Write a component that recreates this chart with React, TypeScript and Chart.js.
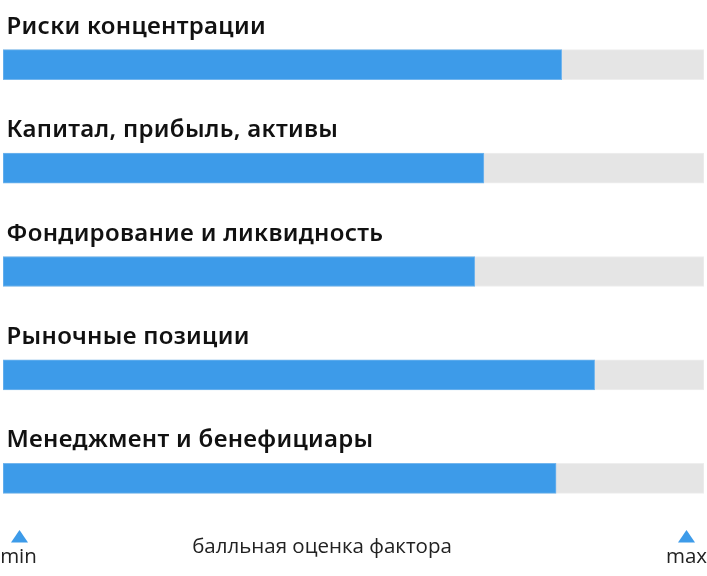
import React, { useEffect, useRef } from "react";
import { Chart, registerables } from "chart.js";

Chart.register(...registerables);

const categories = [
  "Риски концентрации",
  "Капитал, прибыль, активы",
  "Фондирование и ликвидность",
  "Рыночные позиции",
  "Менеджмент и бенефициары",
];
const scores = [79.7, 68.6, 67.3, 84.4, 78.9];
const scaleMin = 0;
const scaleMax = 100;
const trackValues = [100, 100, 100, 100, 100];
const axisCaption = "балльная оценка фактора";
const minLabel = "min";
const maxLabel = "max";

const BLUE = "#3d9be9";
const BLUE_EDGE = "#74b6ee";
const TRACK = "#e5e5e5";
const TRACK_EDGE = "#eeeeee";

const labelsPlugin = {
  id: "factorLabels",
  afterDatasetsDraw(chart: any) {
    const ctx = chart.ctx;
    const area = chart.chartArea;
    const meta = chart.getDatasetMeta(1);
    ctx.save();
    ctx.fillStyle = "#111111";
    ctx.font = "600 24px 'Noto Sans', sans-serif";
    (ctx as any).letterSpacing = "0.3px";
    ctx.textAlign = "left";
    ctx.textBaseline = "alphabetic";
    meta.data.forEach((bar: any, i: number) => {
      const top = bar.y - bar.height / 2;
      ctx.fillText(categories[i], area.left + 3.5, top - 16);
    });
    (ctx as any).letterSpacing = "0px";

    // bottom scale markers
    const tri = (cx: number) => {
      ctx.beginPath();
      ctx.moveTo(cx - 8.5, 542.5);
      ctx.lineTo(cx + 8.5, 542.5);
      ctx.lineTo(cx, 530);
      ctx.closePath();
      ctx.fillStyle = BLUE;
      ctx.fill();
    };
    const minX = area.left + 16.5;
    const maxX = area.right - 17.5;
    tri(minX);
    tri(maxX);
    ctx.fillStyle = "#222222";
    ctx.font = "20.5px 'Open Sans', sans-serif";
    ctx.textAlign = "center";
    ctx.fillText(minLabel, minX - 1, 563);
    ctx.fillText(maxLabel, maxX, 563);
    ctx.fillText(axisCaption, 322, 553);
    ctx.restore();
  },
};

export default function App() {
  const ref = useRef<HTMLCanvasElement | null>(null);
  useEffect(() => {
    document.body.style.margin = "0";
    const canvas = ref.current!;
    const chart = new Chart(canvas, {
      type: "bar",
      data: {
        labels: categories,
        datasets: [
          {
            label: "track",
            data: trackValues,
            backgroundColor: TRACK,
            borderColor: TRACK_EDGE,
            borderWidth: 1,
            borderSkipped: false,
            barThickness: 30,
            grouped: false,
            order: 2,
          } as any,
          {
            label: "score",
            data: scores,
            backgroundColor: BLUE,
            borderColor: BLUE_EDGE,
            borderWidth: 1,
            borderSkipped: false,
            barThickness: 30,
            grouped: false,
            order: 1,
          } as any,
        ],
      },
      options: {
        indexAxis: "y",
        responsive: false,
        animation: false,
        layout: { padding: { left: 3, right: 3, top: 13, bottom: 46 } },
        plugins: { legend: { display: false }, tooltip: { enabled: false } },
        scales: {
          x: { display: false, min: scaleMin, max: scaleMax },
          y: { display: false },
        },
      },
      plugins: [labelsPlugin],
    });
    return () => chart.destroy();
  }, []);
  return (
    <canvas
      ref={ref}
      width={707}
      height={576}
      style={{ position: "fixed", left: 0, top: 0, width: 707, height: 576 }}
    />
  );
}
